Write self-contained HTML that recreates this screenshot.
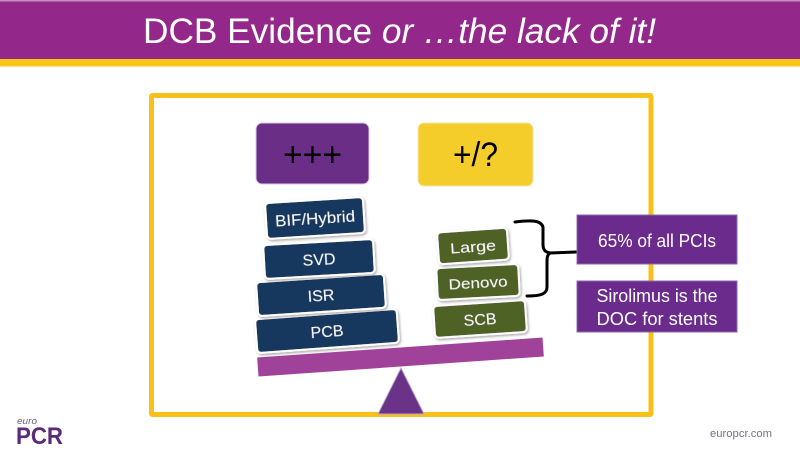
<!DOCTYPE html>
<html>
<head>
<meta charset="utf-8">
<style>
  html,body{margin:0;padding:0;background:#fff;}
  body{width:800px;height:450px;overflow:hidden;}
  svg{display:block;}
  text{font-family:"Liberation Sans", sans-serif;}
</style>
</head>
<body>
<svg width="800" height="450" viewBox="0 0 800 450" xmlns="http://www.w3.org/2000/svg">
  <defs>
    <filter id="sh" x="-20%" y="-30%" width="140%" height="160%">
      <feDropShadow dx="1" dy="1.5" stdDeviation="1.2" flood-color="#000" flood-opacity="0.35"/>
    </filter>
  </defs>
  <rect width="800" height="450" fill="#fff"/>
  <!-- title bar -->
  <rect x="0" y="0" width="800" height="59" fill="#93288A"/>
  <rect x="0" y="0" width="800" height="1.5" fill="#c58cc0"/>
  <rect x="0" y="59" width="800" height="7.5" fill="#F7C518"/>
  <text x="143" y="43" font-size="35" fill="#fff" textLength="513" lengthAdjust="spacingAndGlyphs">DCB Evidence <tspan font-style="italic">or …the lack of it!</tspan></text>

  <!-- yellow frame -->
  <rect x="151.5" y="95.5" width="499.5" height="319" fill="none" stroke="#F9C01A" stroke-width="5" rx="1"/>

  <!-- top boxes -->
  <rect x="256" y="123" width="113" height="61" rx="6" fill="#6B2E87" stroke="#d9c9e3" stroke-width="1"/>
  <text x="312.5" y="166" font-size="34" fill="#000" text-anchor="middle" textLength="59" lengthAdjust="spacingAndGlyphs">+++</text>
  <rect x="418" y="123" width="115" height="63" rx="6" fill="#F5CD2B" stroke="#f3e6b0" stroke-width="1"/>
  <text x="475.5" y="166" font-size="34" fill="#000" text-anchor="middle" textLength="45" lengthAdjust="spacingAndGlyphs">+/?</text>

  <!-- beam -->
  <g transform="translate(400.5,357) rotate(-4)">
    <rect x="-143" y="-9.5" width="286" height="19" fill="#A0429A"/>
  </g>
  <!-- fulcrum -->
  <polygon points="401,368 378,414 424,414" fill="#6A3388" stroke="#b9a6d2" stroke-width="1"/>

  <!-- left stack -->
  <g transform="translate(327,331) rotate(-4.2)" filter="url(#sh)">
    <rect x="-71" y="-17" width="142" height="34" rx="4" fill="#17375E" stroke="#fff" stroke-width="2"/>
    <text x="0" y="6" font-size="16" fill="#fff" text-anchor="middle">PCB</text>
  </g>
  <g transform="translate(321,295) rotate(-3.8)" filter="url(#sh)">
    <rect x="-64" y="-17" width="128" height="34" rx="4" fill="#17375E" stroke="#fff" stroke-width="2"/>
    <text x="0" y="6" font-size="16" fill="#fff" text-anchor="middle">ISR</text>
  </g>
  <g transform="translate(319,259) rotate(-3.2)" filter="url(#sh)">
    <rect x="-55" y="-17" width="110" height="34" rx="4" fill="#17375E" stroke="#fff" stroke-width="2"/>
    <text x="0" y="6" font-size="16" fill="#fff" text-anchor="middle">SVD</text>
  </g>
  <g transform="translate(315,218) rotate(-3.6)" filter="url(#sh)">
    <rect x="-49" y="-18" width="98" height="36" rx="4" fill="#17375E" stroke="#fff" stroke-width="2"/>
    <text x="0" y="6" font-size="16" fill="#fff" text-anchor="middle" textLength="80" lengthAdjust="spacingAndGlyphs">BIF/Hybrid</text>
  </g>

  <!-- right stack -->
  <g transform="translate(480,319) rotate(-3.8)" filter="url(#sh)">
    <rect x="-46" y="-16" width="92" height="32" rx="4" fill="#4F6228" stroke="#fff" stroke-width="2"/>
    <text x="0" y="6" font-size="16" fill="#fff" text-anchor="middle">SCB</text>
  </g>
  <g transform="translate(478,282) rotate(-3)" filter="url(#sh)">
    <rect x="-41" y="-16" width="82" height="32" rx="4" fill="#4F6228" stroke="#fff" stroke-width="2"/>
    <text x="0" y="6" font-size="15" fill="#fff" text-anchor="middle" textLength="59" lengthAdjust="spacingAndGlyphs">Denovo</text>
  </g>
  <g transform="translate(473,246) rotate(-4)" filter="url(#sh)">
    <rect x="-35" y="-16" width="70" height="32" rx="4" fill="#4F6228" stroke="#fff" stroke-width="2"/>
    <text x="0" y="6" font-size="15" fill="#fff" text-anchor="middle" textLength="46" lengthAdjust="spacingAndGlyphs">Large</text>
  </g>

  <!-- brace -->
  <path d="M515,222 C531,220 541,220 543,227 L543,244 C543,250 545,252 550,253 L576,252 M550,253 C547,255 547,258 547,263 L547,287 C547,294 541,296 527,296"
        fill="none" stroke="#000" stroke-width="3" stroke-linecap="round" stroke-linejoin="round"/>

  <!-- right info boxes -->
  <rect x="577" y="215" width="160" height="49" fill="#6A2B8C" stroke="#8b6aa8" stroke-width="1"/>
  <text x="657" y="247" font-size="18" fill="#fff" text-anchor="middle" textLength="118" lengthAdjust="spacingAndGlyphs">65% of all PCIs</text>
  <rect x="577" y="281" width="160" height="51" fill="#6A2B8C" stroke="#8b6aa8" stroke-width="1"/>
  <text x="657" y="302" font-size="18" fill="#fff" text-anchor="middle" textLength="121" lengthAdjust="spacingAndGlyphs">Sirolimus is the</text>
  <text x="657" y="325" font-size="18" fill="#fff" text-anchor="middle" textLength="121" lengthAdjust="spacingAndGlyphs">DOC for stents</text>

  <!-- footer logo -->
  <text x="17" y="424" font-size="9" font-style="italic" fill="#6d5a7e" textLength="20" lengthAdjust="spacingAndGlyphs">euro</text>
  <text x="16" y="444" font-size="24" font-weight="bold" fill="#5B2A7A" textLength="47" lengthAdjust="spacingAndGlyphs">PCR</text>
  <text x="710" y="437" font-size="11" fill="#7b6b8c" textLength="62" lengthAdjust="spacingAndGlyphs">europcr.com</text>
</svg>
</body>
</html>
